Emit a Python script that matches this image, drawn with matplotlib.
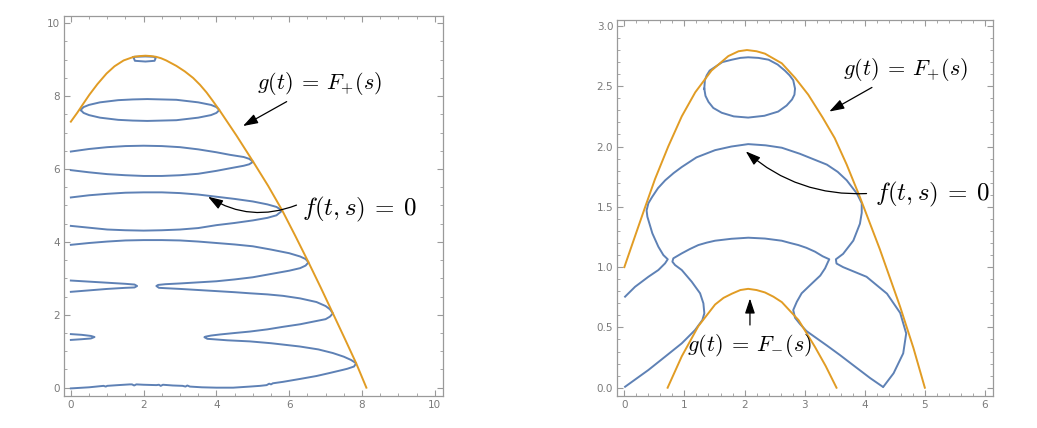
import numpy as np
import matplotlib.pyplot as plt
from matplotlib.ticker import MultipleLocator

plt.rcParams['mathtext.fontset'] = 'cm'

blue = '#5E81B5'
orange = '#E19C24'
frame = '#9a9a9a'

### left panel data ###
# g(t) = F+(s)
lf_t = [0.0, 0.18, 0.34, 0.51, 0.73, 0.98, 1.2, 1.45, 1.73, 1.9, 2.05, 2.2, 2.34, 2.48, 2.62, 2.9, 3.13,
        3.36, 3.55, 3.73, 3.9, 4.08, 4.55, 5.01, 5.42, 5.81, 6.17, 6.53, 6.87, 7.2, 7.52, 7.84, 8.12]
lf_s = [7.3, 7.55, 7.79, 8.04, 8.33, 8.62, 8.82, 8.98, 9.08, 9.1, 9.11, 9.1, 9.08, 9.04, 8.98, 8.83, 8.68,
        8.5, 8.31, 8.1, 7.87, 7.62, 6.92, 6.2, 5.54, 4.86, 4.16, 3.44, 2.74, 2.04, 1.36, 0.67, 0.0]

# f(t,s) = 0 pieces
l1_t = [1.72, 1.76, 2.05, 2.3, 2.33, 2.28, 2.05, 1.75, 1.72]
l1_s = [9.07, 8.97, 8.95, 8.97, 9.04, 9.08, 9.09, 9.08, 9.07]

l2_t = [0.27, 0.35, 0.5, 0.8, 1.3, 1.7, 2.1, 2.5, 2.9, 3.5, 3.85, 4.0, 4.08,
        4.0, 3.85, 3.5, 2.9, 2.5, 2.1, 1.7, 1.3, 0.8, 0.5, 0.35, 0.27]
l2_s = [7.62, 7.7, 7.76, 7.83, 7.89, 7.91, 7.92, 7.91, 7.9, 7.83, 7.76, 7.7, 7.62,
        7.54, 7.48, 7.41, 7.34, 7.33, 7.32, 7.33, 7.35, 7.41, 7.48, 7.54, 7.62]

l3_t = [0, 0.5, 1.0, 1.5, 2.0, 2.5, 3.0, 3.5, 4.0, 4.37, 4.75, 4.9, 5.01,
        4.9, 4.75, 4.37, 4.0, 3.5, 3.0, 2.5, 2.0, 1.5, 1.0, 0.5, 0]
l3_s = [6.48, 6.55, 6.6, 6.63, 6.64, 6.63, 6.6, 6.54, 6.46, 6.39, 6.33, 6.28, 6.2,
        6.13, 6.09, 6.02, 5.95, 5.87, 5.83, 5.81, 5.81, 5.83, 5.86, 5.91, 5.97]

l4_t = [0, 0.5, 1, 1.5, 2, 2.5, 3, 3.5, 4, 4.5, 5, 5.4, 5.65, 5.81,
        5.65, 5.4, 5.0, 4.5, 4.0, 3.5, 3.0, 2.5, 2.0, 1.5, 1.0, 0.5, 0]
l4_s = [5.22, 5.28, 5.32, 5.35, 5.36, 5.36, 5.34, 5.3, 5.24, 5.18, 5.11, 5.03, 4.96, 4.86,
        4.73, 4.66, 4.59, 4.52, 4.46, 4.38, 4.34, 4.32, 4.31, 4.32, 4.34, 4.39, 4.44]

l5_t = [0, 0.5, 1.0, 1.5, 2.0, 2.5, 3.0, 3.5, 4.0, 4.5, 5.0, 5.5, 6.0, 6.3, 6.45, 6.53,
        6.45, 6.3, 6.0, 5.5, 5.0, 4.5, 4.0, 3.5, 3.0, 2.6, 2.4, 2.35,
        2.42, 2.6, 3.0, 3.5, 4.0, 4.5, 4.92, 5.4, 5.83, 6.3, 6.75, 7.0, 7.12, 7.2,
        7.12, 7.0, 6.75, 6.3, 5.83, 5.4, 4.92, 4.5, 4.1, 3.85, 3.7, 3.67,
        3.75, 3.9, 4.3, 4.92, 5.5, 6.29, 6.8, 7.2, 7.5, 7.7, 7.84,
        7.78, 7.6, 7.48, 7.1, 6.75, 6.3, 5.83, 5.55, 5.5, 5.45, 5.38, 5.2, 4.92, 4.46, 4.0, 3.6,
        3.27, 3.2, 3.15, 3.07, 2.8, 2.53, 2.47, 2.42, 2.35, 2.0, 1.8, 1.74, 1.68, 1.62, 1.3, 1.0, 0.96,
        0.9, 0.5, 0]
l5_s = [3.92, 3.97, 4.01, 4.04, 4.05, 4.05, 4.04, 4.01, 3.97, 3.93, 3.88, 3.79, 3.69, 3.6, 3.53, 3.44,
        3.35, 3.28, 3.21, 3.12, 3.03, 2.97, 2.92, 2.89, 2.86, 2.84, 2.82, 2.79,
        2.74, 2.73, 2.71, 2.68, 2.65, 2.62, 2.59, 2.56, 2.52, 2.45, 2.35, 2.24, 2.15, 2.04,
        1.95, 1.88, 1.83, 1.74, 1.67, 1.6, 1.54, 1.5, 1.46, 1.43, 1.4, 1.385,
        1.34, 1.33, 1.3, 1.27, 1.22, 1.13, 1.05, 0.95, 0.85, 0.76, 0.67,
        0.58, 0.52, 0.49, 0.4, 0.32, 0.24, 0.16, 0.12, 0.09, 0.11, 0.07, 0.05, 0.03, 0.0, 0.0, 0.01,
        0.03, 0.06, 0.03, 0.05, 0.06, 0.08, 0.05, 0.08, 0.07, 0.08, 0.09, 0.06, 0.09, 0.09, 0.07, 0.05, 0.03,
        0.05, 0.01, -0.02]

l6_t = [0, 0.5, 1.0, 1.5, 1.75, 1.82, 1.75, 1.5, 1.0, 0.5, 0]
l6_s = [2.94, 2.91, 2.88, 2.85, 2.83, 2.79, 2.75, 2.74, 2.71, 2.67, 2.63]

l7_t = [0, 0.3, 0.55, 0.65, 0.55, 0.3, 0]
l7_s = [1.47, 1.45, 1.42, 1.39, 1.35, 1.33, 1.31]

### right panel data ###
rp_t = [0.0, 0.18, 0.34, 0.51, 0.73, 0.955, 1.18, 1.45, 1.73, 1.9, 2.04, 2.2, 2.34, 2.62, 2.84, 3.06, 3.3,
        3.5, 3.7, 3.92, 4.25, 4.59, 4.81, 5.0]
rp_s = [1.0, 1.26, 1.49, 1.73, 2.0, 2.25, 2.45, 2.63, 2.75, 2.79, 2.8, 2.79, 2.77, 2.69, 2.57, 2.43, 2.24,
        2.07, 1.85, 1.58, 1.15, 0.67, 0.33, 0.0]

rm_t = [0.72, 0.955, 1.23, 1.51, 1.65, 1.79, 1.93, 2.06, 2.2, 2.34, 2.48, 2.62, 2.9, 3.17, 3.35, 3.53]
rm_s = [0.0, 0.26, 0.51, 0.69, 0.745, 0.78, 0.81, 0.82, 0.81, 0.79, 0.755, 0.71, 0.56, 0.34, 0.18, 0.0]

r1_t = [1.33, 1.34, 1.37, 1.42, 1.51, 1.63, 1.79, 1.93, 2.06, 2.23, 2.4, 2.55, 2.67, 2.75, 2.81, 2.84,
        2.83, 2.79, 2.7, 2.56, 2.33, 2.06, 1.82, 1.62, 1.48, 1.4, 1.35, 1.33]
r1_s = [2.48, 2.55, 2.59, 2.63, 2.66, 2.7, 2.72, 2.735, 2.74, 2.735, 2.72, 2.68, 2.63, 2.59, 2.55, 2.48,
        2.43, 2.39, 2.34, 2.29, 2.255, 2.24, 2.25, 2.28, 2.32, 2.37, 2.42, 2.48]

r2_t = [0.012, 0.178, 0.4, 0.566, 0.677, 0.722, 0.649, 0.566, 0.466, 0.383, 0.37, 0.4, 0.46, 0.56, 0.68,
        0.82, 0.955, 1.2, 1.51, 1.78, 2.06, 2.35, 2.62, 2.77, 2.92, 3.17, 3.37, 3.55, 3.7, 3.87, 3.95,
        3.95, 3.92, 3.81, 3.64, 3.52, 3.53, 3.64, 4.03, 4.37, 4.59, 4.69, 4.64, 4.48, 4.31]
r2_s = [0.755, 0.837, 0.92, 0.976, 1.031, 1.065, 1.1, 1.169, 1.28, 1.418, 1.47, 1.53, 1.58, 1.655, 1.72,
        1.78, 1.83, 1.91, 1.97, 2.0, 2.02, 2.01, 1.99, 1.965, 1.94, 1.89, 1.85, 1.79, 1.72, 1.61, 1.53,
        1.45, 1.36, 1.22, 1.11, 1.065, 1.03, 1.0, 0.92, 0.78, 0.62, 0.45, 0.285, 0.12, 0.008]

r3_t = [0.012, 0.4, 0.677, 0.955, 1.176, 1.298, 1.331, 1.315, 1.26, 1.121, 0.955, 0.844, 0.799, 0.815,
        0.955, 1.09, 1.231, 1.37, 1.509, 1.78, 2.063, 2.34, 2.619, 2.76, 2.895, 3.03, 3.173, 3.3, 3.41,
        3.39, 3.34, 3.26, 3.09, 2.95, 2.87, 2.81, 2.84, 2.92, 3.03, 3.37, 3.59, 3.8, 4.09, 4.3]
r3_s = [0.008, 0.147, 0.257, 0.368, 0.478, 0.561, 0.617, 0.7, 0.783, 0.879, 0.976, 1.017, 1.045, 1.073,
        1.114, 1.15, 1.183, 1.203, 1.219, 1.235, 1.244, 1.237, 1.219, 1.2, 1.183, 1.16, 1.128, 1.09, 1.065,
        1.045, 0.99, 0.93, 0.85, 0.783, 0.713, 0.644, 0.58, 0.53, 0.47, 0.35, 0.27, 0.19, 0.08, 0.008]

fig = plt.figure(figsize=(10.37, 4.28), dpi=100)
ax1 = fig.add_axes([0.062, 0.0755, 0.365, 0.888])
ax2 = fig.add_axes([0.5953, 0.0755, 0.3626, 0.878])


def style(ax, major_x, minor_x, major_y, minor_y, fmt_y=None):
    for sp in ax.spines.values():
        sp.set_color(frame)
        sp.set_linewidth(0.9)
    ax.xaxis.set_major_locator(MultipleLocator(major_x))
    ax.xaxis.set_minor_locator(MultipleLocator(minor_x))
    ax.yaxis.set_major_locator(MultipleLocator(major_y))
    ax.yaxis.set_minor_locator(MultipleLocator(minor_y))
    ax.tick_params(which='both', direction='in', top=True, right=True, color=frame,
                   labelcolor='#7a7a7a', labelsize=7.5, pad=3)
    ax.tick_params(which='major', length=4, width=0.8)
    ax.tick_params(which='minor', length=2, width=0.6)
    if fmt_y:
        ax.yaxis.set_major_formatter(fmt_y)
        ax.xaxis.set_major_formatter('{x:.0f}')


arrow = dict(arrowstyle='-|>,head_length=0.9,head_width=0.3', color='black', lw=0.9,
             shrinkA=0, shrinkB=0)

gplus = r'$g(t) \:=\: F_{+}(s)$'
gminus = r'$g(t) \:=\: F_{-}(s)$'
fzero = r'$f(t, s) \:=\: 0$'

### left ###
for t, s in [(l1_t, l1_s), (l2_t, l2_s), (l3_t, l3_s), (l4_t, l4_s), (l5_t, l5_s), (l6_t, l6_s), (l7_t, l7_s)]:
    ax1.plot(t, s, color=blue, lw=1.4, zorder=2)
ax1.plot(lf_t, lf_s, color=orange, lw=1.4, zorder=3)
ax1.set_xlim(-0.18, 10.22)
ax1.set_ylim(-0.22, 10.21)
style(ax1, 2, 0.5, 2, 0.5)

ax1.text(6.84, 8.36, gplus, fontsize=16, ha='center', va='center')
ax1.annotate('', xy=(4.73, 7.18), xytext=(5.93, 7.85), arrowprops=arrow)
ax1.text(6.34, 4.9, fzero, fontsize=18, ha='left', va='center')
ax1.annotate('', xy=(3.77, 5.24), xytext=(6.2, 5.01),
             arrowprops=dict(arrow, connectionstyle='arc3,rad=-0.25'))

### right ###
for t, s in [(r1_t, r1_s), (r2_t, r2_s), (r3_t, r3_s)]:
    ax2.plot(t, s, color=blue, lw=1.4, zorder=2)
ax2.plot(rp_t, rp_s, color=orange, lw=1.4, zorder=3)
ax2.plot(rm_t, rm_s, color=orange, lw=1.4, zorder=3)
ax2.set_xlim(-0.117, 6.14)
ax2.set_ylim(-0.066, 3.05)
style(ax2, 1, 0.2, 0.5, 0.1, '{x:.1f}')

ax2.text(4.67, 2.64, gplus, fontsize=16, ha='center', va='center')
ax2.annotate('', xy=(3.41, 2.29), xytext=(4.12, 2.49), arrowprops=arrow)
ax2.text(4.17, 1.6, fzero, fontsize=18, ha='left', va='center')
ax2.annotate('', xy=(2.02, 1.96), xytext=(4.03, 1.61),
             arrowprops=dict(arrow, connectionstyle='arc3,rad=-0.2'))
ax2.text(2.09, 0.35, gminus, fontsize=16, ha='center', va='center', zorder=5)
ax2.annotate('', xy=(2.09, 0.74), xytext=(2.09, 0.52), arrowprops=arrow)

plt.savefig('out.png', dpi=100)
